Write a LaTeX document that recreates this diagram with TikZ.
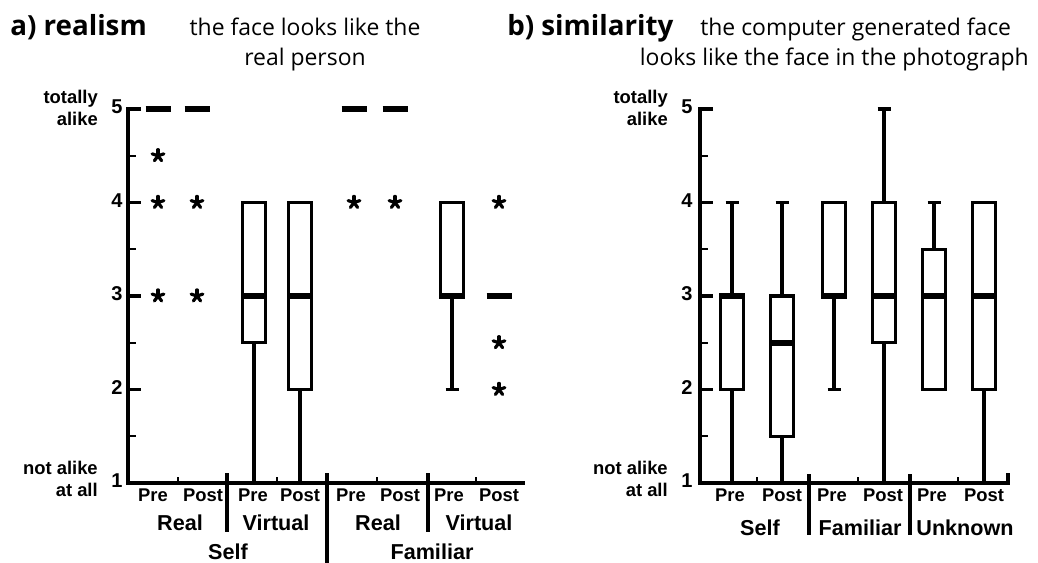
\documentclass[tikz,border=0pt]{standalone}
\usepackage{fontspec}
\newfontfamily\ttlfont{Open Sans}
\newfontfamily\axfont{Liberation Sans}
% rating value -> vertical pixel position (1 at the axis, 93.5 per step)
\newcommand\Yv[1]{(483-(#1-1)*93.5)}
\tikzset{
  axisline/.style={line width=2.6pt},
  minortick/.style={line width=1.3pt},
  boxline/.style={line width=2.4pt},
  medline/.style={line width=4.3pt},
  whiskline/.style={line width=2.3pt},
  starline/.style={line width=2.4pt, line cap=round},
  ttlbold/.style={inner sep=0pt, font=\ttlfont\bfseries\fontsize{20.8pt}{24pt}\selectfont},
  ttlplain/.style={inner sep=0pt, font=\ttlfont\fontsize{17.2pt}{21pt}\selectfont},
  numlab/.style={inner sep=0pt, font=\axfont\bfseries\fontsize{15pt}{17pt}\selectfont},
  endlab/.style={inner sep=0pt, align=right, font=\axfont\bfseries\fontsize{13.8pt}{16.5pt}\selectfont},
  prelab/.style={inner sep=0pt, font=\axfont\bfseries\fontsize{13.8pt}{16pt}\selectfont},
  grplab/.style={inner sep=0pt, font=\axfont\bfseries\fontsize{16.2pt}{19pt}\selectfont},
}
% box: x, lower quartile, upper quartile, median
\newcommand\qbox[4]{%
  \draw[boxline] (#1-11.5,{\Yv{#2}}) rectangle (#1+11.5,{\Yv{#3}});
  \draw[medline] (#1-12.8,{\Yv{#4}}) -- (#1+12.8,{\Yv{#4}});}
% whisker between two values
\newcommand\whisk[3]{\draw[whiskline] (#1,{\Yv{#2}}) -- (#1,{\Yv{#3}});}
% whisker end cap
\newcommand\wcap[2]{\draw[whiskline] (#1-6.5,{\Yv{#2}}) -- (#1+6.5,{\Yv{#2}});}
% median of a degenerate box
\newcommand\lonemed[2]{\draw[medline] (#1-12.5,{\Yv{#2}}) -- (#1+12.5,{\Yv{#2}});}
% outlier asterisk
\newcommand\outl[2]{\foreach \a in {90,162,234,306,18}{\draw[starline] (#1,{\Yv{#2}}) -- ++(\a:4.6pt);}}

\begin{document}
\begin{tikzpicture}[x=0.75pt,y=-0.75pt]
\useasboundingbox[fill=white] (0,0) rectangle (1038,563);

% ---------- titles ----------
\node[ttlbold, anchor=base west] (ta) at (10,36) {a) realism};
\node[ttlplain, anchor=base] (sa1) at (305,36) {the face looks like the};
\node[ttlplain, anchor=base] (sa2) at (305,66) {real person};
\node[ttlbold, anchor=base west] (tb) at (507,36) {b) similarity};
\node[ttlplain, anchor=base west] (sb1) at (700,36) {the computer generated face};
\node[ttlplain, anchor=base east] (sb2) at (1029,66) {looks like the face in the photograph};

% ---------- panel a: axes ----------
\draw[axisline] (141,109) -- (128,109) -- (128,483) -- (525,483);
\foreach \v in {2,3,4} \draw[axisline] (128,{\Yv{\v}}) -- (141,{\Yv{\v}});
\foreach \v in {1.5,2.5,3.5,4.5} \draw[minortick] (128,{\Yv{\v}}) -- (136,{\Yv{\v}});
\foreach \x in {178,277,377,476} \draw[minortick] (\x,483) -- (\x,477);
\draw[axisline] (227,473) -- (227,532);
\draw[axisline] (327,473) -- (327,563);
\draw[axisline] (428,473) -- (428,532);

\foreach \v/\n in {5/a5,4/a4,3/a3,2/a2,1/a1}
  \node[numlab] (\n) at (117,{\Yv{\v}-2}) {\v};
\node[endlab, anchor=east] (atop) at (98,108) {totally\\alike};
\node[endlab, anchor=east] (abot) at (98,479) {not alike\\at all};

% ---------- panel a: data ----------
% Self / Real
\lonemed{158}{5} \outl{158}{4.5} \outl{158}{4} \outl{158}{3}
\lonemed{197}{5} \outl{197}{4} \outl{197}{3}
% Self / Virtual
\whisk{254}{1}{2.5} \qbox{254}{2.5}{4}{3}
\whisk{300}{1}{2} \qbox{300}{2}{4}{3}
% Familiar / Real
\lonemed{354}{5} \outl{354}{4}
\lonemed{395}{5} \outl{395}{4}
% Familiar / Virtual
\whisk{452}{2}{3} \wcap{452}{2} \qbox{452}{3}{4}{3}
\lonemed{499}{3} \outl{499}{4} \outl{499}{2.5} \outl{499}{2}

% ---------- panel a: category labels ----------
\foreach \x/\t/\n in {153/Pre/ap1,203/Post/ap2,253/Pre/ap3,300/Post/ap4,351/Pre/ap5,400/Post/ap6,449/Pre/ap7,499/Post/ap8}
  \node[prelab, anchor=base] (\n) at (\x,501) {\t};
\foreach \x/\t/\n in {180/Real/ag1,276/Virtual/ag2,378/Real/ag3,479/Virtual/ag4}
  \node[grplab, anchor=base] (\n) at (\x,530) {\t};
\node[grplab, anchor=base] (aself) at (228,559) {Self};
\node[grplab, anchor=base] (afam) at (432,559) {Familiar};

% ---------- panel b: axes ----------
\draw[axisline] (713,109) -- (700,109) -- (700,483) -- (1008,483) -- (1008,473);
\foreach \v in {2,3,4} \draw[axisline] (700,{\Yv{\v}}) -- (713,{\Yv{\v}});
\foreach \v in {1.5,2.5,3.5,4.5} \draw[minortick] (700,{\Yv{\v}}) -- (708,{\Yv{\v}});
\foreach \x in {757,858,958} \draw[minortick] (\x,483) -- (\x,477);
\draw[axisline] (809,474) -- (809,535);
\draw[axisline] (910,474) -- (910,535);

\foreach \v/\n in {5/b5,4/b4,3/b3,2/b2,1/b1}
  \node[numlab] (\n) at (687,{\Yv{\v}-2}) {\v};
\node[endlab, anchor=east] (btop) at (668,108) {totally\\alike};
\node[endlab, anchor=east] (bbot) at (668,479) {not alike\\at all};

% ---------- panel b: data ----------
% Self
\whisk{732}{1}{2} \whisk{732}{3}{4} \wcap{732}{4} \wcap{732}{1} \qbox{732}{2}{3}{3}
\whisk{782}{1}{1.5} \whisk{782}{3}{4} \wcap{782}{4} \wcap{782}{1} \qbox{782}{1.5}{3}{2.5}
% Familiar
\whisk{834}{2}{3} \wcap{834}{2} \qbox{834}{3}{4}{3}
\whisk{884}{1}{2.5} \whisk{884}{4}{5} \wcap{884}{5} \wcap{884}{1} \qbox{884}{2.5}{4}{3}
% Unknown
\whisk{934}{3.5}{4} \wcap{934}{4} \qbox{934}{2}{3.5}{3}
\whisk{984}{1}{2} \wcap{984}{1} \qbox{984}{2}{4}{3}

% ---------- panel b: category labels ----------
\foreach \x/\t/\n in {730/Pre/bp1,782/Post/bp2,832/Pre/bp3,883/Post/bp4,932/Pre/bp5,984/Post/bp6}
  \node[prelab, anchor=base] (\n) at (\x,501) {\t};
\node[grplab, anchor=base] (bself) at (760,535) {Self};
\node[grplab, anchor=base] (bfam) at (860,535) {Familiar};
\node[grplab, anchor=base] (bunk) at (965,535) {Unknown};
\end{tikzpicture}
\end{document}
